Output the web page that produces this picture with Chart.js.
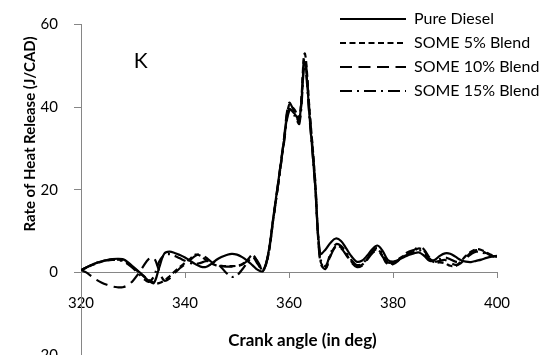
<!DOCTYPE html>
<html><head><meta charset="utf-8">
<script src="https://cdn.jsdelivr.net/npm/chart.js@4"></script>
<style>html,body{margin:0;padding:0;background:#fff}#wrap{width:554px;height:355px;position:relative}</style>
</head><body><div id="wrap"><canvas id="c" width="554" height="355"></canvas></div>
<script>
const crankAngle = [320,321,322,323,324,325,326,327,328,329,330,331,332,333,334,335,336,337,338,339,340,341,342,343,344,345,346,347,348,349,350,351,352,353,354,355,356,357,358,359,360,361,362,363,364,365,366,367,368,369,370,371,372,373,374,375,376,377,378,379,380,381,382,383,384,385,386,387,388,389,390,391,392,393,394,395,396,397,398,399,400];
const pureDiesel = [0.5,1.2,1.8,2.3,2.7,3.0,3.2,3.3,3.2,2.5,
  1.4,0.3,-0.8,-2.0,-2.6,1.0,4.5,5.0,4.7,4.2,
  3.6,2.8,2.0,1.4,1.3,2.0,3.0,3.7,4.2,4.5,
  4.3,3.7,2.8,1.7,0.6,0.3,4.5,13.5,22.5,31.5,
  39.5,38.5,37.0,51.0,37.0,21.5,4.5,5.5,7.2,8.2,
  7.6,5.8,3.9,2.6,2.8,4.0,5.6,6.5,5.2,3.0,
  2.6,3.0,3.6,4.2,4.6,4.8,4.0,2.8,3.0,4.0,
  4.6,4.5,3.8,3.0,2.6,2.5,2.8,3.1,3.5,3.8,
  4.0];
const some5 = [0.5,1.1,1.7,2.2,2.6,2.9,3.1,3.1,2.9,2.2,
  1.2,0.2,-0.9,-1.8,-2.5,-2.6,-2.0,-1.0,0.2,1.3,
  2.3,3.3,4.3,4.0,3.0,2.2,1.7,1.5,1.5,1.5,
  1.6,2.0,3.0,4.2,2.4,0.5,4.0,13.0,22.0,31.5,
  40.5,39.5,37.5,53.0,38.5,23.0,3.0,1.0,4.2,6.4,
  6.0,4.4,2.6,1.5,1.8,3.2,4.8,5.6,4.0,2.0,
  2.3,3.2,4.0,4.6,5.2,5.8,5.2,3.4,2.4,2.4,
  2.2,1.6,1.5,2.6,4.0,5.0,5.6,5.4,4.8,4.2,
  3.8];
const some10 = [0.6,0.0,-0.9,-1.8,-2.5,-3.0,-3.4,-3.6,-3.6,-3.1,
  -2.0,-0.4,1.5,3.2,3.5,0.5,-2.0,-1.5,-0.2,1.0,
  2.0,3.0,4.0,4.4,3.6,2.6,1.9,1.6,1.4,1.4,
  1.5,1.9,2.8,3.9,2.6,0.6,4.2,13.2,22.5,32.0,
  41.0,39.0,36.5,52.0,38.0,22.5,2.5,0.8,4.0,6.2,
  5.8,4.2,2.4,1.3,1.6,3.0,4.6,5.3,3.8,1.8,
  2.0,2.8,4.2,5.0,5.4,6.2,5.5,3.6,2.6,2.8,
  3.0,2.4,1.8,2.2,3.6,4.8,5.4,5.2,4.6,4.0,
  3.6];
const some15 = [0.5,1.2,1.8,2.3,2.7,2.9,3.0,3.0,2.7,2.0,
  1.0,-0.2,-1.5,-2.3,-1.0,2.5,4.2,4.4,4.0,3.4,
  2.8,2.3,2.0,2.3,2.7,2.8,2.3,1.2,-0.2,-1.1,
  -0.7,0.7,2.4,3.7,2.0,0.4,4.3,13.0,22.0,31.0,
  39.0,38.0,36.0,50.0,36.5,21.5,3.5,1.5,4.6,6.8,
  6.4,4.8,3.0,1.8,2.0,3.4,5.0,5.9,4.4,2.4,
  2.4,3.0,3.8,4.4,5.0,5.4,4.6,3.2,2.8,3.2,
  3.6,3.2,2.6,2.6,3.4,4.4,5.0,4.9,4.4,4.0,
  3.8];
const seriesLabels = ['Pure Diesel', 'SOME 5% Blend', 'SOME 10% Blend', 'SOME 15% Blend'];
const xTickRange = [320, 400];
const yTickRange = [-20, 60];
const tickStep = 20;
const xTitle = 'Crank angle (in deg)';
const yTitle = 'Rate of Heat Release (J/CAD)';
const panelLabel = 'K';

const FONT = 'Lato';
const AXIS_GREY = '#868686';

function series(label, vals, dash) {
  return {
    label,
    data: vals.map((v, i) => ({x: crankAngle[i], y: v})),
    borderColor: '#000', backgroundColor: '#000',
    borderWidth: 2.2, borderDash: dash, borderCapStyle: 'butt',
    pointRadius: 0, pointHoverRadius: 0, tension: 0.35, fill: false
  };
}

const placeLegend = {
  id: 'placeLegend',
  afterLayout(chart) {
    const lg = chart.legend;
    if (!lg) return;
    lg.left = 332; lg.top = 3;
    lg.right = lg.left + lg.width; lg.bottom = 200; lg.height = lg.bottom - lg.top;
  }
};

const annotations = {
  id: 'annotations',
  afterDraw(chart) {
    const ctx = chart.ctx, xs = chart.scales.x, ys = chart.scales.y, ca = chart.chartArea;
    ctx.save();
    ctx.fillStyle = '#000';
    ctx.textAlign = 'center'; ctx.textBaseline = 'middle';
    ctx.font = '21px ' + FONT;
    ctx.fillText(panelLabel, xs.getPixelForValue(331.5), ys.getPixelForValue(51));
    ctx.font = 'bold 17px ' + FONT;
    ctx.fillText(xTitle, ca.left + 221.5, ca.bottom - 14);
    ctx.font = 'bold 15px ' + FONT;
    ctx.translate(30, ca.top + 109.5);
    ctx.rotate(-Math.PI / 2);
    ctx.fillText(yTitle, 0, 0);
    ctx.restore();
  }
};

new Chart(document.getElementById('c'), {
  type: 'line',
  data: {
    datasets: [
      series(seriesLabels[0], pureDiesel, []),
      series(seriesLabels[1], some5, [6, 3.5]),
      series(seriesLabels[2], some10, [12, 6.5]),
      series(seriesLabels[3], some15, [12, 5, 2, 5])
    ]
  },
  options: {
    responsive: false, animation: false, devicePixelRatio: 1,
    layout: {padding: {top: 24.5, right: 57, bottom: 0, left: 0}},
    plugins: {
      tooltip: {enabled: false},
      legend: {
        position: 'chartArea', align: 'start',
        labels: {
          usePointStyle: true, pointStyle: 'line', pointStyleWidth: 66,
          font: {family: FONT, size: 16}, color: '#000', padding: 8,
          generateLabels(chart) {
            const items = Chart.defaults.plugins.legend.labels.generateLabels(chart);
            items.forEach(it => {
              const ds = chart.data.datasets[it.datasetIndex];
              it.lineDash = ds.borderDash;
              it.lineWidth = ds.borderWidth;
              it.strokeStyle = ds.borderColor;
              it.pointStyle = 'line';
              it.lineCap = 'butt';
            });
            return items;
          }
        }
      }
    },
    scales: {
      x: {
        type: 'linear', min: xTickRange[0], max: xTickRange[1], position: {y: 0},
        ticks: {stepSize: tickStep, color: '#000', font: {family: FONT, size: 15}, padding: 17, maxRotation: 0, autoSkip: false},
        grid: {drawOnChartArea: false, drawTicks: true, tickLength: 5, color: AXIS_GREY, tickColor: AXIS_GREY},
        border: {color: AXIS_GREY, width: 1},
        afterFit(s) { s.height = 5; s.paddingLeft = 0; s.paddingRight = 0; }
      },
      y: {
        type: 'linear', min: yTickRange[0], max: yTickRange[1],
        ticks: {stepSize: tickStep, color: '#000', font: {family: FONT, size: 15}, padding: 16},
        grid: {drawOnChartArea: false, drawTicks: true, tickLength: 7, color: AXIS_GREY, tickColor: AXIS_GREY},
        border: {color: AXIS_GREY, width: 1},
        afterFit(s) { s.width = 81; s.paddingTop = 0; s.paddingBottom = 0; }
      }
    }
  },
  plugins: [placeLegend, annotations]
});
</script>
</body></html>
